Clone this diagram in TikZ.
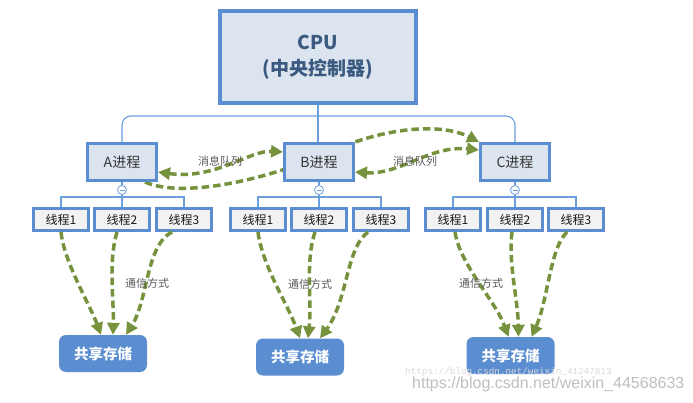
\documentclass[tikz,border=0pt]{standalone}
\usepackage{fontspec}
\setmainfont{Noto Sans CJK SC}
\newfontfamily\wmsans{Liberation Sans}
\newfontfamily\wmmono{Liberation Mono}
\usetikzlibrary{arrows.meta,calc}
\pgfdeclarelayer{background}
\pgfsetlayers{background,main}
\definecolor{boxblue}{HTML}{5B8ED0}
\definecolor{procfill}{HTML}{DCE4EF}
\definecolor{thfill}{HTML}{F2F2F2}
\definecolor{linkblue}{HTML}{6A9FDC}
\definecolor{olivegreen}{HTML}{76923C}
\definecolor{cputext}{HTML}{3B5A80}
\definecolor{storefill}{HTML}{5A8ED0}
\tikzset{
  cpubox/.style={draw=boxblue, line width=4pt, fill=procfill, minimum width=196pt, minimum height=92pt, inner sep=0pt, align=center, font=\fontsize{19}{26}\selectfont\bfseries, text=cputext},
  procbox/.style={draw=boxblue, line width=3pt, fill=procfill, minimum width=69pt, minimum height=37pt, inner sep=0pt, font=\fontsize{14}{16}\selectfont, text=black!80},
  thbox/.style={draw=boxblue, line width=3pt, fill=thfill, minimum width=55pt, minimum height=22pt, inner sep=0pt, font=\fontsize{12}{14}\selectfont, text=black!90},
  store/.style={fill=storefill, rounded corners=7pt, minimum width=88pt, minimum height=37pt, text=white, font=\fontsize{14.5}{16}\selectfont\bfseries, inner sep=0pt},
  minusc/.style={circle, draw=linkblue, fill=white, line width=0.8pt, minimum size=9pt, inner sep=0pt},
  conn/.style={draw=linkblue, line width=1.1pt},
  garrow/.style={draw=olivegreen, line width=3.5pt, dash pattern=on 7.5pt off 4pt, -{Triangle[length=12pt,width=12pt]}},
  gboth/.style={draw=olivegreen, line width=3.5pt, dash pattern=on 7.5pt off 4pt, {Triangle[length=12pt,width=12pt]}-{Triangle[length=12pt,width=12pt]}},
  lbl/.style={font=\fontsize{11}{13}\selectfont, text=black!65, inner sep=0pt},
}
\begin{document}
\begin{tikzpicture}[x=1pt,y=-1pt]
\useasboundingbox (0,0) rectangle (693,403);
% nodes
\node[cpubox] (cpu) at (318,57.5) {CPU\\(中央控制器)};
\node[procbox] (pa) at (122,162) {A进程};
\node[procbox] (pb) at (319,162) {B进程};
\node[procbox] (pc) at (515,162) {C进程};
\node[minusc] (ma) at (122,190) {};
\node[minusc] (mb) at (319,190) {};
\node[minusc] (mc) at (515,190) {};
\foreach \c in {ma,mb,mc}{\draw[linkblue, line width=0.8pt] ($(\c)+(-2.5,0)$) -- ($(\c)+(2.5,0)$);}
\node[thbox] (a1) at (61,219.5) {线程1};
\node[thbox] (a2) at (122,219.5) {线程2};
\node[thbox] (a3) at (184,219.5) {线程3};
\node[thbox] (b1) at (258,219.5) {线程1};
\node[thbox] (b2) at (319,219.5) {线程2};
\node[thbox] (b3) at (381,219.5) {线程3};
\node[thbox] (c1) at (453,219.5) {线程1};
\node[thbox] (c2) at (515,219.5) {线程2};
\node[thbox] (c3) at (576,219.5) {线程3};
\node[store] (sa) at (103,353.5) {共享存储};
\node[store] (sb) at (300,357) {共享存储};
\node[store] (sc) at (510.5,355.5) {共享存储};
\coordinate (bus) at (318,116);
\coordinate (abus) at (122,197);
\coordinate (bbus) at (319,197);
\coordinate (cbus) at (515,197);
\begin{pgfonlayer}{background}
\fill[white] (0,0) rectangle (693,403);
\draw[conn] (cpu.south) -- (cpu.south |- pb.north);
\draw[conn, rounded corners=9pt] (pa.north) |- (bus) -| (pc.north);
\foreach \p/\m/\b/\x/\y/\z in {pa/ma/abus/a1/a2/a3, pb/mb/bbus/b1/b2/b3, pc/mc/cbus/c1/c2/c3}{
  \draw[conn] (\p.south) -- (\m) -- (\b) -- (\y.north);
  \draw[conn] (\x.north) -- (\x.north |- \b) -- (\z.north |- \b) -- (\z.north);
}
\draw[garrow] ($(pa.south east)+(-13,0)$) .. controls (180,198) and (262,182) .. ($(pb.center)+(11,-10)$) .. controls (382,128) and (440,122) .. (pc.north west);
\end{pgfonlayer}
% message queue arcs
\draw[gboth] ($(pa.east)+(0,10)$) .. controls (215,180) and (250,150) .. ($(pb.west)+(0,-10)$);
\draw[gboth] ($(pb.east)+(0,10)$) .. controls (400,175) and (430,145) .. ($(pc.west)+(0,-12)$);
\node[lbl] (q1) at (220,161) {消息队列};
\node[lbl] (q2) at (415,161) {消息队列};
% thread to storage
\draw[garrow] (a1.south) .. controls (64,262) and (90,305) .. ($(sa.north)+(-2,0)$);
\draw[garrow] ($(a2.south)+(-5,0)$) .. controls (108,262) and (114,300) .. ($(sa.north)+(10,0)$);
\draw[garrow] ($(a3.south)+(-12,0)$) .. controls (146,245) and (148,300) .. ($(sa.north)+(23,0)$);
\draw[garrow] (b1.south) .. controls (262,265) and (288,305) .. (sb.north);
\draw[garrow] ($(b2.south)+(-4,0)$) .. controls (305,262) and (312,300) .. ($(sb.north)+(8,0)$);
\draw[garrow] ($(b3.south)+(-13,0)$) .. controls (346,248) and (348,300) .. ($(sb.north)+(20,0)$);
\draw[garrow] ($(c1.south)+(2,0)$) .. controls (460,265) and (495,300) .. ($(sc.north)+(-2,0)$);
\draw[garrow] ($(c2.south)+(-3,0)$) .. controls (508,262) and (518,300) .. ($(sc.north)+(8,0)$);
\draw[garrow] ($(c3.south)+(-9,0)$) .. controls (550,248) and (548,300) .. ($(sc.north)+(21,0)$);
\node[lbl] (la) at (147,283) {通信方式};
\node[lbl] (lb) at (310,284) {通信方式};
\node[lbl] (lc) at (481,283) {通信方式};
% watermarks
\node[anchor=west, inner sep=0pt, font=\wmmono\fontsize{9.3}{10}\selectfont, text=black!15] (wm1) at (405,372) {https://blog.csdn.net/weixin\_41247813};
\node[anchor=west, inner sep=0pt, font=\wmsans\fontsize{16}{18}\selectfont, text=black!25] (wm2) at (412,384) {https://blog.csdn.net/weixin\_44568633};
\end{tikzpicture}
\end{document}
